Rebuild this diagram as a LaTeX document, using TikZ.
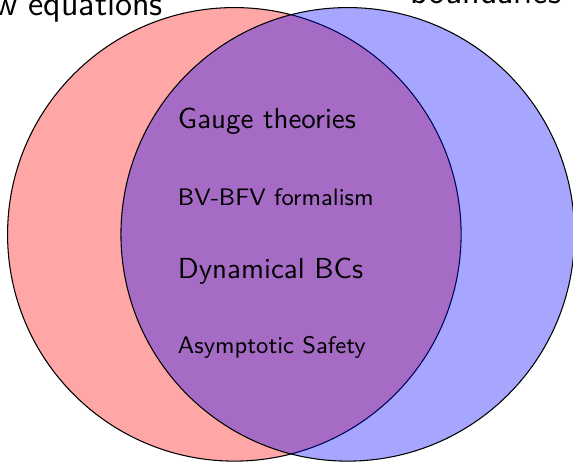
\documentclass[tikz,border=0pt]{standalone}
\usepackage{tikz}
\usetikzlibrary{positioning}
\renewcommand{\familydefault}{\sfdefault}
\tikzset{
  setA/.style={draw=black, fill=red, fill opacity=0.35},
  setB/.style={draw=black, fill=blue, fill opacity=0.35},
  topic/.style={anchor=west, text opacity=1, font=\fontsize{10.9}{13}\selectfont},
  subtopic/.style={anchor=west, text opacity=1, font=\small},
  field/.style={font=\fontsize{13.1}{15}\selectfont, text opacity=1}
}

\begin{document}
\begin{tikzpicture}
  \useasboundingbox (-3.1,-3.01) rectangle (4.48,3.1);
  % the two sets
  \draw[setA] (0,0) circle (3cm);
  \draw[setB] (1.5,0) circle (3cm);
  % set labels
  \node[field, anchor=base east] (flow) at (-0.82,2.9) {Flow equations};
  \node[field, anchor=base west] (bdry) at (2.2,3.05) {boundaries};
  % common topics
  \node[topic] (gauge) at (-0.87,1.5) {Gauge theories};
  \node[subtopic] (bv) at (-0.87,0.49) {BV-BFV formalism};
  \node[topic] (dyn) at (-0.87,-0.49) {Dynamical BCs};
  \node[subtopic] (as) at (-0.87,-1.5) {Asymptotic Safety};
\end{tikzpicture}
\end{document}
